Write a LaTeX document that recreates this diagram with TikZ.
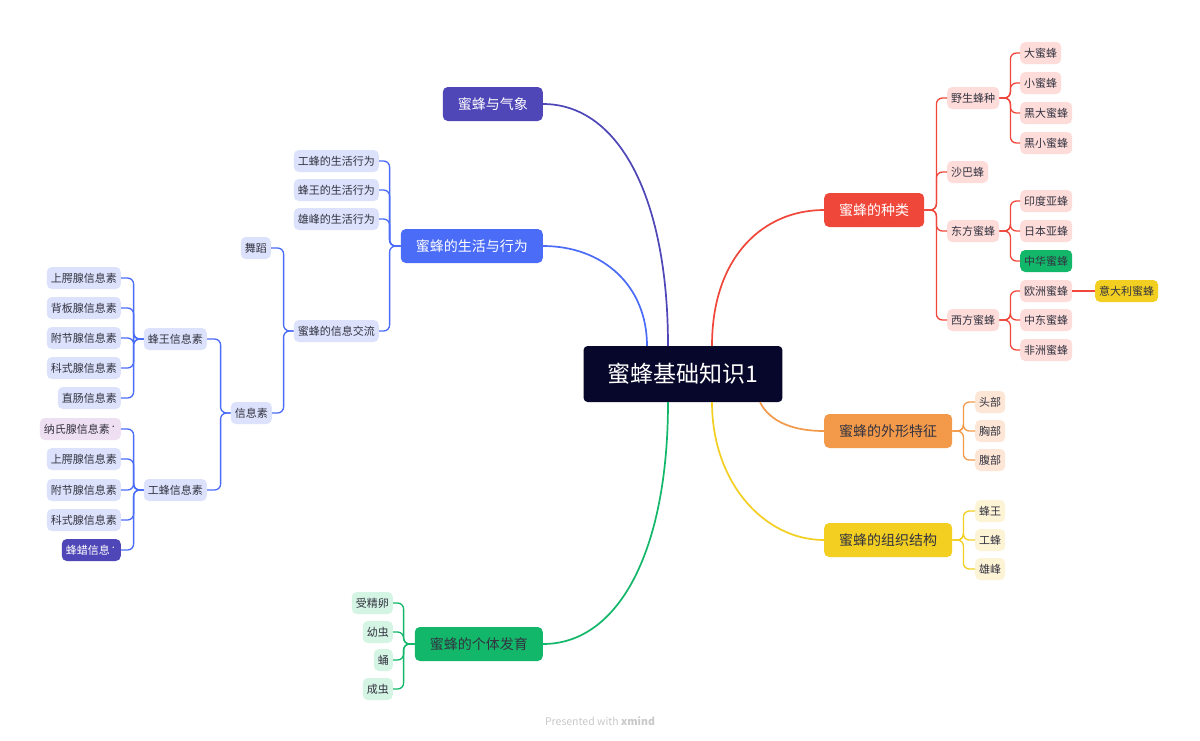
\documentclass[tikz,border=0pt]{standalone}
\usepackage{fontspec}
\setmainfont{Noto Sans CJK SC}

\definecolor{rootbg}{HTML}{07072B}
\definecolor{cindigo}{HTML}{4F46B8}
\definecolor{cblue}{HTML}{4A6CF7}
\definecolor{cgreen}{HTML}{12B76A}
\definecolor{cred}{HTML}{F0473B}
\definecolor{corange}{HTML}{F29A4A}
\definecolor{cyellow}{HTML}{F2CF20}
\definecolor{lred}{HTML}{FDDCDA}
\definecolor{lblue}{HTML}{DCE2FC}
\definecolor{lgreen}{HTML}{D4F4E4}
\definecolor{lorange}{HTML}{FDE6D5}
\definecolor{lyellow}{HTML}{FDF3D5}
\definecolor{llav}{HTML}{EFDFF2}
\definecolor{subtext}{HTML}{333340}
\definecolor{mark}{HTML}{C9C9C9}

\newcommand{\dotmark}{\raisebox{4pt}{\fontsize{7}{7}\selectfont •}}

\begin{document}
\begin{tikzpicture}[x=1pt, y=-1pt,
		rootbox/.style={fill=rootbg, text=white, rounded corners=4pt, font=\fontsize{23}{27}\selectfont, minimum height=56pt, inner xsep=24pt},
		mainbox/.style={rounded corners=5pt, font=\fontsize{14}{17}\selectfont, minimum height=34pt, inner xsep=15pt},
		subbox/.style={rounded corners=5pt, font=\fontsize{11}{13}\selectfont, minimum height=22pt, inner xsep=4pt, inner ysep=2pt, text=subtext},
		link/.style={line width=1.7pt},
		elbow/.style={line width=1.3pt, rounded corners=6pt}
	]
		\fill[white] (0,0) rectangle (1200,740);
		\useasboundingbox (0,0) rectangle (1200,740);

		\node[rootbox] (root) at (683,374) {蜜蜂基础知识1};

		\node[mainbox, fill=cindigo, text=white, anchor=east] (qx) at (543,104) {蜜蜂与气象};
		\node[mainbox, fill=cblue, text=white, anchor=east] (sh) at (543,246) {蜜蜂的生活与行为};
		\node[mainbox, fill=cgreen, text=subtext, anchor=east] (fy) at (543,644) {蜜蜂的个体发育};
		\node[mainbox, fill=cred, text=white, anchor=west] (zl) at (824,210) {蜜蜂的种类};
		\node[mainbox, fill=corange, text=subtext, anchor=west] (wx) at (824,431) {蜜蜂的外形特征};
		\node[mainbox, fill=cyellow, text=subtext, anchor=west] (zz) at (824,540) {蜜蜂的组织结构};

		\draw[link, cindigo] ([xshift=-15pt]root.north) .. controls +(0,-150) and +(75,0) .. (qx.east);
		\draw[link, cblue] ([xshift=-36pt]root.north) .. controls +(0,-60) and +(60,0) .. (sh.east);
		\draw[link, cred] ([xshift=29pt]root.north) .. controls +(0,-90) and +(-60,0) .. (zl.west);
		\draw[link, cgreen] ([xshift=-15pt]root.south) .. controls +(0,150) and +(75,0) .. (fy.east);
		\draw[link, cyellow] ([xshift=29pt]root.south) .. controls +(0,80) and +(-60,0) .. (zz.west);
		\draw[link, corange] ([xshift=77pt]root.south) .. controls +(10,20) and +(-30,0) .. (wx.west);

		\node[subbox, fill=lred, anchor=west] (ys) at (947,98) {野生蜂种};
		\node[subbox, fill=lred, anchor=west] (sb) at (947,172) {沙巴蜂};
		\node[subbox, fill=lred, anchor=west] (df) at (947,231) {东方蜜蜂};
		\node[subbox, fill=lred, anchor=west] (xf) at (947,320) {西方蜜蜂};

		\node[subbox, fill=lred, anchor=west] (ys1) at (1020,53) {大蜜蜂};
		\node[subbox, fill=lred, anchor=west] (ys2) at (1020,83) {小蜜蜂};
		\node[subbox, fill=lred, anchor=west] (ys3) at (1020,113) {黑大蜜蜂};
		\node[subbox, fill=lred, anchor=west] (ys4) at (1020,143) {黑小蜜蜂};
		\node[subbox, fill=lred, anchor=west] (df1) at (1020,201) {印度亚蜂};
		\node[subbox, fill=lred, anchor=west] (df2) at (1020,231) {日本亚蜂};
		\node[subbox, fill=cgreen, anchor=west] (df3) at (1020,261) {中华蜜蜂};
		\node[subbox, fill=lred, anchor=west] (xf1) at (1020,291) {欧洲蜜蜂};
		\node[subbox, fill=lred, anchor=west] (xf2) at (1020,320) {中东蜜蜂};
		\node[subbox, fill=lred, anchor=west] (xf3) at (1020,350) {非洲蜜蜂};
		\node[subbox, fill=cyellow, anchor=west] (ydl) at (1095,291) {意大利蜜蜂};

		\foreach \c in {ys, sb, df, xf}
			\draw[elbow, cred] (zl.east) -- ++(12,0) |- (\c.west);
		\foreach \c in {ys1, ys2, ys3, ys4}
			\draw[elbow, cred] (ys.east) -- ++(11,0) |- (\c.west);
		\foreach \c in {df1, df2, df3}
			\draw[elbow, cred] (df.east) -- ++(11,0) |- (\c.west);
		\foreach \c in {xf1, xf2, xf3}
			\draw[elbow, cred] (xf.east) -- ++(11,0) |- (\c.west);
		\draw[elbow, cred] (xf1.east) -- (ydl.west);

		\node[subbox, fill=lorange, anchor=west] (wx1) at (975,402) {头部};
		\node[subbox, fill=lorange, anchor=west] (wx2) at (975,431) {胸部};
		\node[subbox, fill=lorange, anchor=west] (wx3) at (975,460) {腹部};
		\foreach \c in {wx1, wx2, wx3}
			\draw[elbow, corange] (wx.east) -- ++(11,0) |- (\c.west);

		\node[subbox, fill=lyellow, anchor=west] (zz1) at (975,511) {蜂王};
		\node[subbox, fill=lyellow, anchor=west] (zz2) at (975,540) {工蜂};
		\node[subbox, fill=lyellow, anchor=west] (zz3) at (975,569) {雄峰};
		\foreach \c in {zz1, zz2, zz3}
			\draw[elbow, cyellow] (zz.east) -- ++(11,0) |- (\c.west);

		\node[subbox, fill=lgreen, anchor=east] (fy1) at (393,603) {受精卵};
		\node[subbox, fill=lgreen, anchor=east] (fy2) at (393,632) {幼虫};
		\node[subbox, fill=lgreen, anchor=east] (fy3) at (393,660) {蛹};
		\node[subbox, fill=lgreen, anchor=east] (fy4) at (393,689) {成虫};
		\foreach \c in {fy1, fy2, fy3, fy4}
			\draw[elbow, cgreen] (fy.west) -- ++(-11,0) |- (\c.east);

		\node[subbox, fill=lblue, anchor=east] (sh1) at (379,161) {工蜂的生活行为};
		\node[subbox, fill=lblue, anchor=east] (sh2) at (379,190) {蜂王的生活行为};
		\node[subbox, fill=lblue, anchor=east] (sh3) at (379,219) {雄峰的生活行为};
		\node[subbox, fill=lblue, anchor=east] (jl) at (379,331) {蜜蜂的信息交流};
		\foreach \c in {sh1, sh2, sh3, jl}
			\draw[elbow, cblue] (sh.west) -- ++(-11,0) |- (\c.east);

		\node[subbox, fill=lblue, anchor=east] (wd) at (271,248) {舞蹈};
		\node[subbox, fill=lblue, anchor=east] (xxs) at (272,413) {信息素};
		\foreach \c in {wd, xxs}
			\draw[elbow, cblue] (jl.west) -- ++(-10,0) |- (\c.east);

		\node[subbox, fill=lblue, anchor=east] (fw) at (207,339) {蜂王信息素};
		\node[subbox, fill=lblue, anchor=east] (gf) at (207,490) {工蜂信息素};
		\foreach \c in {fw, gf}
			\draw[elbow, cblue] (xxs.west) -- ++(-10,0) |- (\c.east);

		\node[subbox, fill=lblue, anchor=east] (fw1) at (121,278) {上腭腺信息素};
		\node[subbox, fill=lblue, anchor=east] (fw2) at (121,308) {背板腺信息素};
		\node[subbox, fill=lblue, anchor=east] (fw3) at (121,338) {附节腺信息素};
		\node[subbox, fill=lblue, anchor=east] (fw4) at (121,368) {科式腺信息素};
		\node[subbox, fill=lblue, anchor=east] (fw5) at (121,398) {直肠信息素};
		\foreach \c in {fw1, fw2, fw3, fw4, fw5}
			\draw[elbow, cblue] (fw.west) -- ++(-10,0) |- (\c.east);

		\node[subbox, fill=llav, anchor=east] (gf1) at (121,429) {纳氏腺信息素\dotmark};
		\node[subbox, fill=lblue, anchor=east] (gf2) at (121,459) {上腭腺信息素};
		\node[subbox, fill=lblue, anchor=east] (gf3) at (121,490) {附节腺信息素};
		\node[subbox, fill=lblue, anchor=east] (gf4) at (121,520) {科式腺信息素};
		\node[subbox, fill=cindigo, text=white, anchor=east] (gf5) at (121,550) {蜂蜡信息\dotmark};
		\foreach \c in {gf1, gf2, gf3, gf4, gf5}
			\draw[elbow, cblue] (gf.west) -- ++(-10,0) |- (\c.east);

		\node[text=mark, font=\fontsize{10.5}{12}\selectfont] (wm) at (600,721) {Presented with \textbf{xmind}};
	\end{tikzpicture}
\end{document}
